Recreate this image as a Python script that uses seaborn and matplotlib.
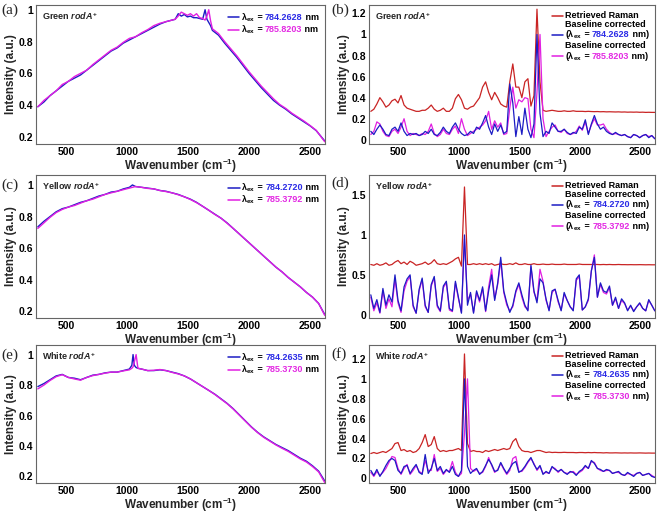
"""
Fluorescence and baseline-corrected Raman spectra of rodA+ strains
(green / yellow / white), two excitation wavelengths each.
"""

import numpy as np
import matplotlib
matplotlib.use("Agg")
import matplotlib.pyplot as plt
import seaborn as sns
from matplotlib.lines import Line2D
from matplotlib.offsetbox import AnchoredOffsetbox, DrawingArea, HPacker, TextArea, VPacker
from matplotlib.ticker import FuncFormatter

# ---------------------------------------------------------------- data
# raw fluorescence spectra (left column)
wn_a = [270, 320, 370, 420, 470, 520, 570, 620, 670, 720, 770, 820, 870, 920, 970,
        1020, 1070, 1120, 1170, 1220, 1270, 1320, 1370,
        1395, 1420, 1445, 1470, 1495, 1520, 1545, 1570, 1595, 1620,
        1640, 1655, 1670, 1685, 1700,
        1750, 1800, 1850, 1900, 1950, 2000, 2050, 2100, 2150, 2200, 2250, 2300, 2350,
        2400, 2450, 2500, 2550, 2620]
green_raw_784 = [0.39, 0.42, 0.46, 0.49, 0.52, 0.55, 0.57, 0.59, 0.62, 0.65, 0.68, 0.71, 0.74, 0.76, 0.79,
                 0.81, 0.83, 0.85, 0.87, 0.89, 0.91, 0.925, 0.935,
                 0.94, 0.975, 0.96, 0.97, 0.955, 0.96, 0.95, 0.95, 0.945, 0.94,
                 1.00, 0.94, 0.92, 0.90, 0.87,
                 0.84, 0.79, 0.745, 0.70, 0.65, 0.60, 0.555, 0.51, 0.47, 0.43, 0.40, 0.375, 0.345,
                 0.32, 0.295, 0.27, 0.24, 0.175]
green_raw_785 = [0.39, 0.43, 0.46, 0.49, 0.53, 0.55, 0.58, 0.60, 0.62, 0.655, 0.685, 0.715, 0.745, 0.765, 0.795,
                 0.82, 0.83, 0.855, 0.875, 0.90, 0.915, 0.925, 0.935,
                 0.94, 0.96, 0.985, 0.975, 0.965, 0.975, 0.96, 0.975, 0.95, 0.945,
                 0.935, 0.96, 1.00, 0.93, 0.88,
                 0.85, 0.80, 0.755, 0.71, 0.66, 0.61, 0.565, 0.52, 0.48, 0.44, 0.405, 0.38, 0.35,
                 0.325, 0.30, 0.272, 0.242, 0.17]

wn_c = [270, 320, 370, 420, 470, 520, 570, 620, 670, 720, 770, 820, 870, 920, 970, 1020,
        1045, 1070,
        1120, 1170, 1220, 1270, 1320, 1370, 1420, 1470, 1520, 1570, 1620, 1670, 1720, 1770, 1820,
        1870, 1920, 1970, 2020, 2070, 2120, 2170, 2220, 2270, 2320, 2370, 2420, 2470, 2520, 2570,
        2620]
yellow_raw_784 = [0.735, 0.77, 0.80, 0.83, 0.85, 0.86, 0.875, 0.89, 0.90, 0.915, 0.93, 0.94, 0.955, 0.96, 0.975, 0.985,
                  1.00, 0.99,
                  0.985, 0.98, 0.975, 0.965, 0.96, 0.95, 0.94, 0.925, 0.91, 0.89, 0.865, 0.84, 0.815, 0.79, 0.76,
                  0.725, 0.69, 0.655, 0.62, 0.585, 0.55, 0.515, 0.48, 0.45, 0.415, 0.385, 0.355, 0.32, 0.29, 0.25,
                  0.18]
yellow_raw_785 = [0.725, 0.76, 0.795, 0.825, 0.845, 0.86, 0.87, 0.885, 0.90, 0.91, 0.925, 0.94, 0.95, 0.96, 0.97, 0.98,
                  0.985, 0.99,
                  0.985, 0.978, 0.975, 0.965, 0.958, 0.95, 0.938, 0.925, 0.908, 0.888, 0.865, 0.84, 0.813, 0.79, 0.758,
                  0.725, 0.69, 0.655, 0.62, 0.585, 0.55, 0.515, 0.48, 0.45, 0.415, 0.385, 0.355, 0.32, 0.29, 0.25,
                  0.175]

wn_e = [270, 320, 370, 420, 470, 520, 570, 620, 670, 720, 770, 820, 870, 920, 970, 1020,
        1040, 1050, 1060, 1075, 1090,
        1120, 1170, 1220, 1270, 1320, 1370, 1420, 1470, 1520, 1570, 1620, 1670, 1720, 1770, 1820,
        1870, 1920, 1970, 2020, 2070, 2120, 2170, 2220, 2270, 2320, 2370, 2420, 2470, 2520, 2570,
        2620]
white_raw_784 = [0.79, 0.81, 0.835, 0.86, 0.87, 0.85, 0.845, 0.835, 0.85, 0.865, 0.87, 0.88, 0.885, 0.885, 0.895, 0.905,
                 0.93, 1.00, 0.93, 0.915, 0.91,
                 0.905, 0.895, 0.895, 0.90, 0.895, 0.885, 0.875, 0.86, 0.84, 0.815, 0.79, 0.765, 0.74, 0.71, 0.68,
                 0.645, 0.605, 0.565, 0.525, 0.49, 0.46, 0.435, 0.41, 0.39, 0.37, 0.345, 0.32, 0.30, 0.27, 0.235,
                 0.17]
white_raw_785 = [0.775, 0.80, 0.83, 0.855, 0.868, 0.85, 0.84, 0.832, 0.85, 0.862, 0.87, 0.878, 0.885, 0.885, 0.893, 0.90,
                 0.91, 0.92, 0.95, 1.00, 0.91,
                 0.905, 0.895, 0.897, 0.902, 0.895, 0.883, 0.873, 0.86, 0.84, 0.815, 0.79, 0.765, 0.738, 0.708, 0.678,
                 0.643, 0.603, 0.563, 0.523, 0.488, 0.457, 0.432, 0.407, 0.385, 0.365, 0.34, 0.315, 0.295, 0.265, 0.23,
                 0.16]

# retrieved / baseline-corrected spectra (right column), sampled every 25 cm-1
wn_fine = np.arange(270, 2621, 25)

green_raman = [0.27, 0.29, 0.34, 0.40, 0.36, 0.31, 0.33, 0.37, 0.385, 0.35,
               0.42, 0.33, 0.30, 0.29, 0.28, 0.27, 0.27, 0.28, 0.28, 0.30,
               0.33, 0.29, 0.27, 0.28, 0.30, 0.27, 0.27, 0.30, 0.39, 0.43,
               0.38, 0.30, 0.29, 0.31, 0.32, 0.36, 0.40, 0.50, 0.55, 0.45,
               0.38, 0.45, 0.40, 0.34, 0.32, 0.31, 0.55, 0.72, 0.50, 0.50,
               0.40, 0.55, 0.58, 0.32, 0.42, 1.24, 0.55, 0.28, 0.27, 0.275,
               0.28, 0.275, 0.27, 0.27, 0.275, 0.27, 0.27, 0.275, 0.27, 0.27,
               0.27, 0.268, 0.27, 0.268, 0.267, 0.268, 0.266, 0.267, 0.265, 0.266,
               0.265, 0.264, 0.265, 0.263, 0.264, 0.262, 0.263, 0.262, 0.263, 0.261,
               0.262, 0.26, 0.261, 0.26, 0.26]
green_bc_784 = [0.08, 0.05, 0.10, 0.14, 0.10, 0.05, 0.04, 0.10, 0.12, 0.08,
                0.16, 0.08, 0.04, 0.06, 0.05, 0.06, 0.04, 0.05, 0.08, 0.06,
                0.10, 0.05, 0.04, 0.07, 0.12, 0.08, 0.06, 0.12, 0.16, 0.10,
                0.06, 0.04, 0.05, 0.08, 0.06, 0.12, 0.10, 0.16, 0.23, 0.12,
                0.05, 0.15, 0.08, 0.14, 0.06, 0.08, 0.53, 0.35, 0.03, 0.22,
                0.05, 0.30, 0.10, 0.02, 0.15, 1.00, 0.25, 0.03, 0.08, 0.06,
                0.16, 0.12, 0.08, 0.08, 0.10, 0.07, 0.05, 0.07, 0.06, 0.12,
                0.10, 0.19, 0.05, 0.15, 0.23, 0.15, 0.10, 0.12, 0.08, 0.06,
                0.05, 0.07, 0.05, 0.04, 0.05, 0.03, 0.02, 0.05, 0.04, 0.02,
                0.04, 0.05, 0.02, 0.04, 0.01]
green_bc_785 = [0.05, 0.08, 0.17, 0.15, 0.08, 0.04, 0.03, 0.08, 0.10, 0.06,
                0.12, 0.20, 0.08, 0.04, 0.06, 0.05, 0.04, 0.06, 0.05, 0.08,
                0.15, 0.06, 0.03, 0.05, 0.10, 0.06, 0.05, 0.10, 0.13, 0.06,
                0.20, 0.10, 0.04, 0.06, 0.08, 0.10, 0.12, 0.14, 0.18, 0.27,
                0.10, 0.18, 0.12, 0.16, 0.05, 0.06, 0.30, 0.50, 0.30, 0.38,
                0.36, 0.40, 0.39, 0.10, 0.02, 0.45, 1.00, 0.20, 0.03, 0.08,
                0.12, 0.14, 0.08, 0.07, 0.10, 0.06, 0.05, 0.06, 0.08, 0.13,
                0.09, 0.17, 0.06, 0.14, 0.20, 0.14, 0.14, 0.15, 0.10, 0.07,
                0.05, 0.06, 0.05, 0.04, 0.05, 0.03, 0.02, 0.05, 0.04, 0.02,
                0.04, 0.05, 0.03, 0.04, 0.01]

yellow_raman = [0.63, 0.62, 0.64, 0.62, 0.63, 0.65, 0.62, 0.63, 0.66, 0.68,
                0.64, 0.66, 0.63, 0.67, 0.65, 0.62, 0.63, 0.64, 0.66, 0.63,
                0.65, 0.69, 0.64, 0.63, 0.64, 0.63, 0.65, 0.67, 0.70, 0.72,
                0.61, 1.60, 0.63, 0.63, 0.64, 0.63, 0.64, 0.63, 0.64, 0.63,
                0.64, 0.62, 0.63, 0.64, 0.63, 0.63, 0.64, 0.63, 0.65, 0.63,
                0.63, 0.64, 0.63, 0.63, 0.64, 0.63, 0.63, 0.635, 0.63, 0.63,
                0.635, 0.63, 0.63, 0.63, 0.635, 0.63, 0.63, 0.63, 0.63, 0.635,
                0.63, 0.63, 0.63, 0.63, 0.63, 0.63, 0.628, 0.63, 0.628, 0.63,
                0.628, 0.628, 0.63, 0.628, 0.628, 0.627, 0.628, 0.627, 0.627, 0.628,
                0.627, 0.626, 0.627, 0.626, 0.626]
yellow_bc_784 = [0.25, 0.08, 0.19, 0.03, 0.33, 0.12, 0.25, 0.16, 0.50, 0.18,
                 0.05, 0.35, 0.45, 0.50, 0.12, 0.02, 0.32, 0.46, 0.12, 0.03,
                 0.38, 0.48, 0.12, 0.05, 0.36, 0.42, 0.08, 0.05, 0.42, 0.22,
                 0.02, 1.00, 0.12, 0.28, 0.02, 0.30, 0.18, 0.35, 0.05, 0.30,
                 0.50, 0.18, 0.40, 0.72, 0.30, 0.15, 0.03, 0.12, 0.30, 0.40,
                 0.25, 0.12, 0.05, 0.62, 0.30, 0.15, 0.45, 0.40, 0.20, 0.05,
                 0.30, 0.32, 0.18, 0.05, 0.28, 0.18, 0.10, 0.05, 0.45, 0.50,
                 0.06, 0.10, 0.20, 0.55, 0.72, 0.22, 0.40, 0.30, 0.28, 0.36,
                 0.12, 0.22, 0.08, 0.20, 0.15, 0.05, 0.12, 0.04, 0.10, 0.15,
                 0.08, 0.05, 0.19, 0.12, 0.05]
yellow_bc_785 = [0.22, 0.05, 0.15, 0.02, 0.30, 0.08, 0.20, 0.10, 0.45, 0.15,
                 0.03, 0.30, 0.42, 0.48, 0.10, 0.02, 0.30, 0.44, 0.10, 0.03,
                 0.36, 0.46, 0.10, 0.04, 0.34, 0.40, 0.06, 0.04, 0.40, 0.20,
                 0.03, 0.95, 0.18, 0.26, 0.03, 0.28, 0.16, 0.33, 0.04, 0.35,
                 0.57, 0.20, 0.38, 0.68, 0.28, 0.12, 0.05, 0.10, 0.28, 0.38,
                 0.22, 0.10, 0.06, 0.60, 0.28, 0.18, 0.57, 0.42, 0.18, 0.06,
                 0.28, 0.32, 0.16, 0.06, 0.26, 0.18, 0.10, 0.06, 0.43, 0.48,
                 0.06, 0.10, 0.18, 0.55, 0.75, 0.22, 0.38, 0.28, 0.26, 0.34,
                 0.12, 0.20, 0.08, 0.18, 0.14, 0.06, 0.11, 0.05, 0.10, 0.14,
                 0.08, 0.05, 0.18, 0.12, 0.05]

white_raman = [0.25, 0.26, 0.25, 0.26, 0.27, 0.26, 0.28, 0.30, 0.35, 0.36,
               0.28, 0.29, 0.27, 0.28, 0.26, 0.27, 0.30, 0.36, 0.44, 0.32,
               0.34, 0.42, 0.30, 0.27, 0.28, 0.27, 0.28, 0.28, 0.29, 0.30,
               0.28, 1.25, 0.35, 0.27, 0.28, 0.27, 0.27, 0.26, 0.28, 0.27,
               0.28, 0.29, 0.28, 0.29, 0.30, 0.29, 0.30, 0.37, 0.40, 0.32,
               0.28, 0.27, 0.27, 0.26, 0.27, 0.28, 0.28, 0.27, 0.26, 0.265,
               0.26, 0.262, 0.26, 0.26, 0.262, 0.26, 0.26, 0.26, 0.258, 0.26,
               0.26, 0.258, 0.26, 0.258, 0.26, 0.258, 0.258, 0.256, 0.258, 0.256,
               0.256, 0.257, 0.256, 0.255, 0.256, 0.255, 0.256, 0.255, 0.255, 0.256,
               0.255, 0.254, 0.255, 0.254, 0.254]
white_bc_784 = [0.08, 0.03, 0.09, 0.02, 0.07, 0.13, 0.18, 0.20, 0.18, 0.08,
                0.05, 0.12, 0.13, 0.05, 0.10, 0.14, 0.06, 0.04, 0.24, 0.05,
                0.10, 0.20, 0.08, 0.12, 0.05, 0.09, 0.06, 0.12, 0.04, 0.02,
                0.08, 1.00, 0.12, 0.05, 0.08, 0.10, 0.04, 0.07, 0.13, 0.19,
                0.14, 0.07, 0.08, 0.16, 0.10, 0.05, 0.10, 0.15, 0.17, 0.06,
                0.08, 0.12, 0.17, 0.21, 0.14, 0.09, 0.13, 0.04, 0.07, 0.05,
                0.12, 0.09, 0.07, 0.09, 0.06, 0.04, 0.07, 0.06, 0.03, 0.07,
                0.09, 0.13, 0.10, 0.18, 0.15, 0.10, 0.09, 0.07, 0.09, 0.08,
                0.05, 0.06, 0.07, 0.04, 0.03, 0.06, 0.04, 0.02, 0.05, 0.06,
                0.03, 0.04, 0.05, 0.02, 0.01]
white_bc_785 = [0.06, 0.02, 0.07, 0.03, 0.06, 0.10, 0.16, 0.22, 0.21, 0.10,
                0.04, 0.10, 0.14, 0.04, 0.08, 0.13, 0.07, 0.05, 0.18, 0.08,
                0.08, 0.24, 0.07, 0.10, 0.04, 0.08, 0.07, 0.17, 0.06, 0.02,
                0.05, 0.45, 1.00, 0.10, 0.07, 0.09, 0.05, 0.06, 0.12, 0.21,
                0.13, 0.06, 0.09, 0.15, 0.09, 0.04, 0.08, 0.20, 0.22, 0.07,
                0.07, 0.11, 0.16, 0.20, 0.15, 0.08, 0.12, 0.05, 0.06, 0.05,
                0.11, 0.10, 0.06, 0.09, 0.06, 0.05, 0.06, 0.07, 0.04, 0.06,
                0.08, 0.12, 0.10, 0.17, 0.16, 0.10, 0.08, 0.07, 0.08, 0.08,
                0.05, 0.06, 0.06, 0.04, 0.03, 0.05, 0.04, 0.03, 0.05, 0.06,
                0.03, 0.04, 0.05, 0.03, 0.01]

x_ticks = [500, 1000, 1500, 2000, 2500]
raw_yticks = [0.2, 0.4, 0.6, 0.8, 1.0]
bc_yticks = [0, 0.2, 0.4, 0.6, 0.8, 1.0, 1.2]
yellow_bc_yticks = [0, 0.5, 1.0, 1.5]

# ---------------------------------------------------------------- style
BLUE = "#1c1cc4"
MAGENTA = "#e11fe1"
RED = "#c92424"
NUM_BLUE = "#2b2be6"
NUM_MAGENTA = "#e329e3"

sns.set_style("white")
plt.rcParams["font.family"] = ["Liberation Sans", "DejaVu Sans"]
plt.rcParams["font.weight"] = "bold"
plt.rcParams["mathtext.fontset"] = "custom"
plt.rcParams["mathtext.rm"] = "Liberation Sans"
plt.rcParams["mathtext.it"] = "Liberation Sans:italic:bold"
plt.rcParams["mathtext.bf"] = "Liberation Sans:bold"
plt.rcParams["mathtext.sf"] = "Liberation Sans"

LAM = r"$\mathrm{\lambda}_{\mathbf{ex}}$"
TICK_FS = 7.5
LABEL_FS = 8.5
LEG_FS = 6.5


def add_legend(ax, entries):
    """Hand-built legend so that the wavelength numbers can be coloured."""
    rows = []
    for color, lines in entries:
        for i, parts in enumerate(lines):
            da = DrawingArea(8, 5, 0, 0)
            if i == len(lines) - 1:
                da.add_artist(Line2D([0, 8], [2.5, 2.5], color=color, lw=1.1))
            words = [TextArea(s, textprops=dict(color=c, fontsize=LEG_FS, fontweight="bold"))
                     for s, c in parts]
            text = HPacker(children=words, align="baseline", pad=0, sep=0)
            rows.append(HPacker(children=[da, text], align="center", pad=0, sep=1))
    box = VPacker(children=rows, align="left", pad=0, sep=-0.3)
    anchored = AnchoredOffsetbox(loc="upper right", child=box, pad=0.15,
                                 borderpad=0.3, frameon=False)
    ax.add_artist(anchored)


def style_axes(ax, ylim, yticks, sample):
    ax.set_xlim(255, 2622)
    ax.set_ylim(*ylim)
    ax.set_xticks(x_ticks)
    ax.set_yticks(yticks)
    ax.yaxis.set_major_formatter(FuncFormatter(lambda v, p: f"{v:g}"))
    ax.tick_params(direction="in", length=2.5, width=0.6, colors="#666666",
                   labelcolor="black", labelsize=TICK_FS, pad=2)
    for lab in ax.get_xticklabels() + ax.get_yticklabels():
        lab.set_fontweight("bold")
    for sp in ax.spines.values():
        sp.set_color("#666666")
        sp.set_linewidth(0.8)
    ax.set_xlabel(r"Wavenumber (cm$^{\mathbf{-1}}$)", fontsize=LABEL_FS,
                  fontweight="bold", labelpad=0)
    ax.set_ylabel("Intensity (a.u.)", fontsize=LABEL_FS, fontweight="bold", labelpad=1)
    ax.text(0.022, 0.965, sample, transform=ax.transAxes, va="top", ha="left",
            fontsize=LEG_FS, fontweight="bold")


def raw_panel(ax, wn, s784, s785, lam784, lam785, ylim, sample):
    sns.lineplot(x=wn, y=s784, ax=ax, color=BLUE, linewidth=1.0, estimator=None)
    sns.lineplot(x=wn, y=s785, ax=ax, color=MAGENTA, linewidth=1.0, estimator=None)
    style_axes(ax, ylim, raw_yticks, sample)
    add_legend(ax, [
        (BLUE, [[(LAM, "black"), (" = ", "black"), (lam784, NUM_BLUE), (" nm", "black")]]),
        (MAGENTA, [[(LAM, "black"), (" = ", "black"), (lam785, NUM_MAGENTA), (" nm", "black")]]),
    ])


def corrected_panel(ax, raman, s784, s785, lam784, lam785, ylim, yticks, sample):
    sns.lineplot(x=wn_fine, y=raman, ax=ax, color=RED, linewidth=0.9, estimator=None)
    sns.lineplot(x=wn_fine, y=s785, ax=ax, color=MAGENTA, linewidth=0.9, estimator=None)
    sns.lineplot(x=wn_fine, y=s784, ax=ax, color=BLUE, linewidth=0.9, estimator=None)
    style_axes(ax, ylim, yticks, sample)
    add_legend(ax, [
        (RED, [[("Retrieved Raman", "black")]]),
        (BLUE, [[("Baseline corrected", "black")],
                [("(" + LAM, "black"), (" = ", "black"), (lam784, NUM_BLUE), (" nm)", "black")]]),
        (MAGENTA, [[("Baseline corrected", "black")],
                   [("(" + LAM, "black"), (" = ", "black"), (lam785, NUM_MAGENTA), (" nm)", "black")]]),
    ])


fig = plt.figure(figsize=(6.58, 5.17), dpi=100)

ax_a = fig.add_axes([0.0547, 0.7215, 0.4392, 0.2689])
ax_b = fig.add_axes([0.5608, 0.7215, 0.4347, 0.2689])
ax_c = fig.add_axes([0.0547, 0.3849, 0.4392, 0.2766])
ax_d = fig.add_axes([0.5608, 0.3849, 0.4347, 0.2766])
ax_e = fig.add_axes([0.0547, 0.066, 0.4392, 0.2667])
ax_f = fig.add_axes([0.5608, 0.066, 0.4347, 0.2667])

raw_panel(ax_a, wn_a, green_raw_784, green_raw_785, "784.2628", "785.8203",
          (0.156, 1.03), r"Green $\mathit{rodA}^{\mathbf{+}}$")
corrected_panel(ax_b, green_raman, green_bc_784, green_bc_785, "784.2628", "785.8203",
                (-0.04, 1.28), bc_yticks, r"Green $\mathit{rodA}^{\mathbf{+}}$")
raw_panel(ax_c, wn_c, yellow_raw_784, yellow_raw_785, "784.2720", "785.3792",
          (0.158, 1.063), r"Yellow $\mathit{rodA}^{\mathbf{+}}$")
corrected_panel(ax_d, yellow_raman, yellow_bc_784, yellow_bc_785, "784.2720", "785.3792",
                (-0.04, 1.75), yellow_bc_yticks, r"Yellow $\mathit{rodA}^{\mathbf{+}}$")
raw_panel(ax_e, wn_e, white_raw_784, white_raw_785, "784.2635", "785.3730",
          (0.158, 1.063), r"White $\mathit{rodA}^{\mathbf{+}}$")
corrected_panel(ax_f, white_raman, white_bc_784, white_bc_785, "784.2635", "785.3730",
                (-0.045, 1.34), bc_yticks, r"White $\mathit{rodA}^{\mathbf{+}}$")

# panel letters
for letter, x, y in [("(a)", 0.002, 0.994), ("(b)", 0.503, 0.994),
                     ("(c)", 0.002, 0.654), ("(d)", 0.503, 0.658),
                     ("(e)", 0.002, 0.325), ("(f)", 0.503, 0.329)]:
    fig.text(x, y, letter, fontsize=11, fontweight="normal", va="top", ha="left",
             family=["Liberation Serif", "DejaVu Serif"])

fig.savefig("out.png", dpi=100)
plt.close(fig)
